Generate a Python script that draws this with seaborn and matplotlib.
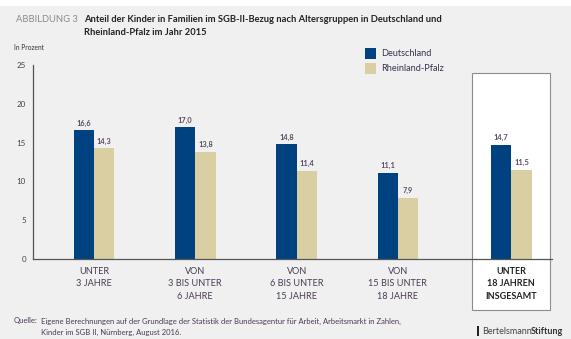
import matplotlib
matplotlib.use("Agg")
import matplotlib.pyplot as plt
from matplotlib.patches import Rectangle
import seaborn as sns
import pandas as pd

# Data
groups = ["UNTER\n3 JAHRE", "VON\n3 BIS UNTER\n6 JAHRE", "VON\n6 BIS UNTER\n15 JAHRE",
          "VON\n15 BIS UNTER\n18 JAHRE", "UNTER\n18 JAHREN\nINSGESAMT"]
deutschland = [16.6, 17.0, 14.8, 11.1, 14.7]
rheinland_pfalz = [14.3, 13.8, 11.4, 7.9, 11.5]
series_names = ["Deutschland", "Rheinland-Pfalz"]
y_ticks = [0, 5, 10, 15, 20, 25]

# Layout: horizontal slot of each group (the total sits a little further right)
group_pos = [0.0, 1.0, 2.0, 3.0, 4.12]

BLUE = "#00427f"
BEIGE = "#dacfa2"
BG = "#f0f0f0"
TXT = "#4b3a55"

df = pd.DataFrame({
    "pos": group_pos * 2,
    "region": [series_names[0]] * 5 + [series_names[1]] * 5,
    "value": deutschland + rheinland_pfalz,
})

sns.set_theme(style="white")
plt.rcParams["font.family"] = ["Lato", "DejaVu Sans"]

W, H = 571, 339
fig = plt.figure(figsize=(W / 100, H / 100), dpi=100, facecolor=BG)
# white strip at the very top
fig.patches.append(Rectangle((0, 1 - 6 / H), 1, 6 / H, transform=fig.transFigure,
                             facecolor="white", edgecolor="none", zorder=-5))
# highlighted frame for the overall group
fig.patches.append(Rectangle((472 / W, (H - 310) / H), 78 / W, 237 / H, transform=fig.transFigure,
                             facecolor="white", edgecolor="#8c8c8c", linewidth=0.8, zorder=-2))

ax = fig.add_axes([33 / W, (H - 259) / H, (552 - 33) / W, (259 - 65) / H])
ax.patch.set_visible(False)

sns.barplot(data=df, x="pos", y="value", hue="region", native_scale=True,
            palette=[BLUE, BEIGE], width=0.4, gap=0, ax=ax, legend=False,
            saturation=1, linewidth=0)

for cont, vals in zip(ax.containers, [deutschland, rheinland_pfalz]):
    ax.bar_label(cont, labels=[f"{v:.1f}".replace(".", ",") for v in vals],
                 padding=2.5, fontsize=5.3, color="#5a4a60", fontweight="bold")

ax.set_xlim((33 - 94) / 101.3, (552 - 94) / 101.3)
ax.set_ylim(0, 25)
ax.set_yticks(y_ticks)
ax.set_yticklabels([str(t) for t in y_ticks], fontsize=5.8, color="#444444")
ax.set_xticks(group_pos)
ax.set_xticklabels(groups, fontsize=6.6, color=TXT, linespacing=1.55)
ax.tick_params(axis="x", length=0, pad=5.5)
ax.tick_params(axis="y", direction="out", length=3, width=0.8, color="#555555", pad=2)
lbl = ax.get_xticklabels()[-1]
lbl.set_fontweight("bold")
lbl.set_fontsize(6.5)
lbl.set_color("#222222")
ax.set_xlabel("")
ax.set_ylabel("")
for s in ["top", "right"]:
    ax.spines[s].set_visible(False)
for s in ["left", "bottom"]:
    ax.spines[s].set_color("#555555")
    ax.spines[s].set_linewidth(0.9)

# Legend
for i, (name, col) in enumerate(zip(series_names, [BLUE, BEIGE])):
    y = H - 48 - i * 15
    fig.patches.append(Rectangle((365 / W, (y - 11) / H), 11 / W, 11 / H,
                                 transform=fig.transFigure, facecolor=col, edgecolor="none"))
    fig.text(381 / W, (y - 5.5) / H, name, fontsize=6.6, color="#3a3050", va="center", ha="left")

# Titles
fig.text(16 / W, (H - 20) / H, "ABBILDUNG 3", fontsize=6.75, color="#8a8a8a", va="center", ha="left")
fig.text(84 / W, (H - 20) / H,
         "Anteil der Kinder in Familien im SGB-II-Bezug nach Altersgruppen in Deutschland und",
         fontsize=6.75, color="#222222", fontweight="bold", va="center", ha="left")
fig.text(84 / W, (H - 32.5) / H, "Rheinland-Pfalz im Jahr 2015",
         fontsize=6.75, color="#222222", fontweight="bold", va="center", ha="left")
fig.text(14 / W, (H - 47) / H, "In Prozent", fontsize=4.8, color="#333333", va="center", ha="left")

# Source
fig.text(14 / W, (H - 321) / H, "Quelle:", fontsize=5.5, color="#4b3a55", va="center", ha="left")
fig.text(41 / W, (H - 321) / H,
         "Eigene Berechnungen auf der Grundlage der Statistik der Bundesagentur für Arbeit, Arbeitsmarkt in Zahlen,",
         fontsize=5.5, color="#4b3a55", va="center", ha="left")
fig.text(41 / W, (H - 332) / H, "Kinder im SGB II, Nürnberg, August 2016.",
         fontsize=5.5, color="#4b3a55", va="center", ha="left")

# Publisher mark
fig.patches.append(Rectangle((477 / W, (H - 336) / H), 1.6 / W, 10 / H,
                             transform=fig.transFigure, facecolor="#222222", edgecolor="none"))
t1 = fig.text(482 / W, (H - 331) / H, "Bertelsmann", fontsize=6.5, color="#444444",
              va="center", ha="left")
fig.canvas.draw()
bb = t1.get_window_extent()
fig.text((bb.x1 - 0.5) / W, (H - 331) / H, "Stiftung", fontsize=6.5, color="#333333",
         fontweight="bold", va="center", ha="left")

fig.savefig("out.png", dpi=100, facecolor=BG)
